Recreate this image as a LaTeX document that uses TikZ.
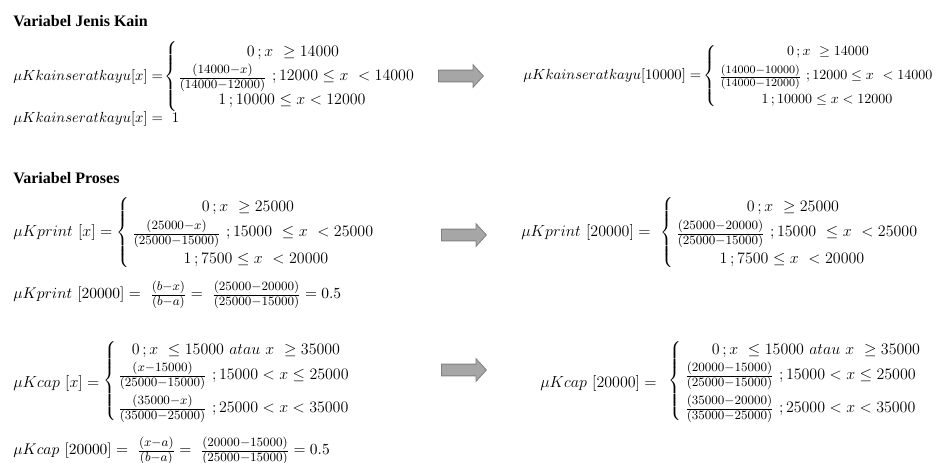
\documentclass[tikz,border=0pt]{standalone}
\usepackage{fix-cm}
\usepackage{amsmath}
\usepackage{fontspec}
\newfontfamily\titlefont{Liberation Serif}
\usetikzlibrary{shapes.arrows}
\definecolor{arrowfill}{RGB}{166,166,166}
\definecolor{arrowline}{RGB}{128,128,128}
\newcommand\eqa{\fontsize{11}{13}\selectfont}
\newcommand\eqc{\fontsize{11.6}{13}\selectfont}
\newcommand\eqf{\fontsize{10.5}{12}\selectfont}
\newcommand\eqg{\fontsize{12}{14}\selectfont}
\newcommand\fr[2]{\mbox{\fontsize{9.5}{10}\selectfont$\genfrac{}{}{}{1}{\textstyle #1}{\textstyle #2}$}}
\newcommand\frs[2]{\mbox{\fontsize{8.5}{9}\selectfont$\genfrac{}{}{}{1}{\textstyle #1}{\textstyle #2}$}}
\newcommand\mn{{-}}
\newcommand\brc[1]{$\delimitershortfall=0pt\delimiterfactor=1001\left\{\vcenter{\hbox{\vrule height #1 width 0pt}}\right.$}
\tikzset{
  ttl/.style={font=\titlefont\bfseries\fontsize{12}{14}\selectfont, anchor=base west, inner sep=0pt},
  lbl/.style={font=\eqg, anchor=base west, inner sep=0pt},
  lbla/.style={font=\eqa, anchor=base west, inner sep=0pt},
  lblc/.style={font=\eqc, anchor=base west, inner sep=0pt},
  row/.style={font=\eqg, anchor=base, inner sep=0pt},
  rowl/.style={font=\eqg, anchor=base west, inner sep=0pt},
  rows/.style={font=\eqf, anchor=base, inner sep=0pt},
  rowls/.style={font=\eqf, anchor=base west, inner sep=0pt},
  brace/.style={font=\eqf, inner sep=0pt, anchor=center},
  bigarrow/.style={single arrow, draw=arrowline, fill=arrowfill, line width=0.6pt,
    minimum height=33.75pt, inner xsep=0pt, inner ysep=4.1pt,
    single arrow head extend=4.1pt, single arrow tip angle=95, anchor=tail},
}
\begin{document}
\begin{tikzpicture}[x=0.75pt,y=-0.75pt]
\useasboundingbox (0,0) rectangle (949,463);
\fill[white] (0,0) rectangle (949,463);
% ---------- Block 1 ----------
\node[ttl] (t1) at (13,27) {Variabel Jenis Kain};
\node[lbla] (a1) at (13,81) {$\mu Kkainseratkayu[x] =$};
\node[brace] (b1) at (172,77) {\brc{48pt}};
\node[row] (a1r1) at (293,57) {$0\,; x\ \ge 14000$};
\node[rowl] (a1r2) at (178,81) {$\fr{(14000\mn x)}{(14000\mn 12000)}\ ;12000\le x\ <14000$};
\node[row] (a1r3) at (292,105) {$1\,;10000\le x<12000$};
\node[lbla] (a1v) at (13,123) {$\mu Kkainseratkayu[x] =\ 1$};
\node[bigarrow] (ar1) at (438,76) {};
\node[lbla] (c1) at (523,80) {$\mu Kkainseratkayu[10000] =$};
\node[brace] (d1) at (711,76) {\brc{45pt}};
\node[rows] (c1r1) at (828,56) {$0\,; x\ \ge 14000$};
\node[rowls] (c1r2) at (719,80) {$\frs{(14000\mn 10000)}{(14000\mn 12000)}\ ;12000\le x\ <14000$};
\node[rows] (c1r3) at (827,104) {$1\,;10000\le x<12000$};
% ---------- Block 2 ----------
\node[ttl] (t2) at (13,184) {Variabel Proses};
\node[lbl] (a2) at (13,237) {$\mu Kprint\ [x] =$};
\node[brace] (b2) at (124,233) {\brc{49pt}};
\node[row] (a2r1) at (248,212) {$0\,; x\ \ge 25000$};
\node[rowl] (a2r2) at (132,237) {$\fr{(25000\mn x)}{(25000\mn 15000)}\ ;15000\ \le x\ <25000$};
\node[row] (a2r3) at (256,264) {$1\,;7500\le x\ <20000$};
\node[lblc] (a2v) at (13,298) {$\mu Kprint\ [20000] =\ \fr{(b\mn x)}{(b\mn a)} =\ \fr{(25000\mn 20000)}{(25000\mn 15000)} = 0.5$};
\node[bigarrow] (ar2) at (441,235) {};
\node[lbl] (c2) at (521,237) {$\mu Kprint\ [20000] =$};
\node[brace] (d2) at (668,233) {\brc{49pt}};
\node[row] (c2r1) at (793,212) {$0\,; x\ \ge 25000$};
\node[rowl] (c2r2) at (676,237) {$\fr{(25000\mn 20000)}{(25000\mn 15000)}\ ;15000\ \le x\ <25000$};
\node[row] (c2r3) at (792,264) {$1\,;7500\le x\ <20000$};
% ---------- Block 3 ----------
\node[lbl] (a3) at (13,387) {$\mu Kcap\ [x] =$};
\node[brace] (b3) at (111,381) {\brc{58pt}};
\node[row] (a3r1) at (236,354) {$0\,; x\ \le 15000\ atau\ x\ \ge 35000$};
\node[rowl] (a3r2) at (118,379) {$\fr{(x\mn 15000)}{(25000\mn 15000)}\ ;15000<x\le 25000$};
\node[rowl] (a3r3) at (118,412) {$\fr{(35000\mn x)}{(35000\mn 25000)}\ ;25000<x<35000$};
\node[lblc] (a3v) at (13,454) {$\mu Kcap\ [20000] =\ \fr{(x\mn a)}{(b\mn a)} =\ \fr{(20000\mn 15000)}{(25000\mn 15000)} = 0.5$};
\node[bigarrow] (ar3) at (441,370) {};
\node[lbl] (c3) at (540,387) {$\mu Kcap\ [20000] =$};
\node[brace] (d3) at (676,381) {\brc{58pt}};
\node[row] (c3r1) at (816,354) {$0\,; x\ \le 15000\ atau\ x\ \ge 35000$};
\node[rowl] (c3r2) at (685,379) {$\fr{(20000\mn 15000)}{(25000\mn 15000)}\ ;15000<x\le 25000$};
\node[rowl] (c3r3) at (685,412) {$\fr{(35000\mn 20000)}{(35000\mn 25000)}\ ;25000<x<35000$};
\end{tikzpicture}
\end{document}
